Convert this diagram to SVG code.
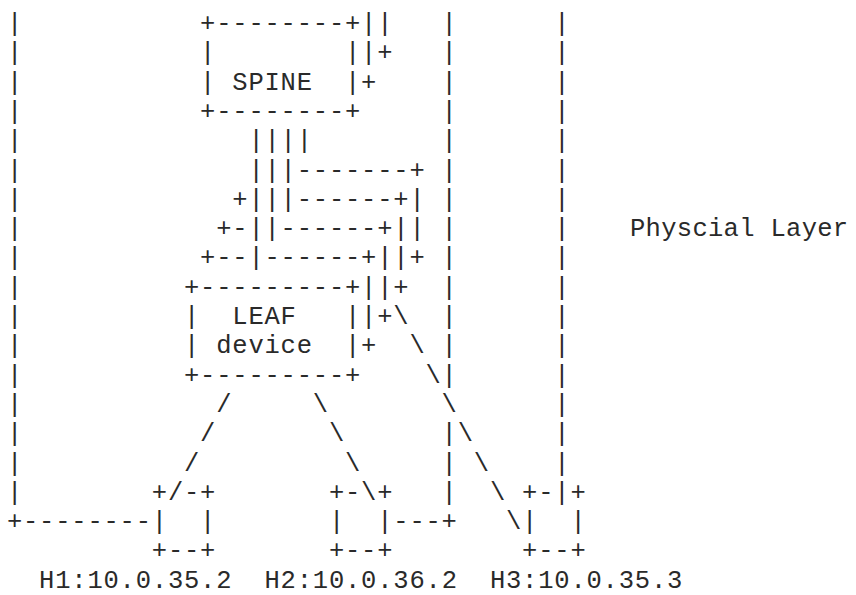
<svg xmlns="http://www.w3.org/2000/svg" width="856" height="595" viewBox="0 0 856 595">
<style>
text{font-family:"Liberation Mono","DejaVu Sans Mono",monospace;font-size:25.5px;letter-spacing:0.8px;fill:#2a2a2a;white-space:pre}
.lbl{letter-spacing:0.3px}
</style>
<rect width="856" height="595" fill="#fff"/>
<g id="connectors">
  <text xml:space="preserve"><tspan x="6.9" y="31">|</tspan><tspan x="6.9" y="60.3">|</tspan><tspan x="6.9" y="89.6">|</tspan><tspan x="6.9" y="118.9">|</tspan><tspan x="6.9" y="148.2">|</tspan><tspan x="6.9" y="177.5">|</tspan><tspan x="6.9" y="206.8">|</tspan><tspan x="6.9" y="236.1">|</tspan><tspan x="6.9" y="265.4">|</tspan><tspan x="6.9" y="294.7">|</tspan><tspan x="6.9" y="324">|</tspan><tspan x="6.9" y="353.3">|</tspan><tspan x="6.9" y="382.6">|</tspan><tspan x="6.9" y="411.9">|</tspan><tspan x="6.9" y="441.2">|</tspan><tspan x="6.9" y="470.5">|</tspan><tspan x="6.9" y="499.8">|</tspan><tspan x="6.9" y="529.1">+--------</tspan></text>
  <text xml:space="preserve"><tspan x="441.6" y="31">|</tspan><tspan x="441.6" y="60.3">|</tspan><tspan x="441.6" y="89.6">|</tspan><tspan x="441.6" y="118.9">|</tspan><tspan x="441.6" y="148.2">|</tspan><tspan x="441.6" y="177.5">|</tspan><tspan x="441.6" y="206.8">|</tspan><tspan x="441.6" y="236.1">|</tspan><tspan x="441.6" y="265.4">|</tspan><tspan x="441.6" y="294.7">|</tspan><tspan x="441.6" y="324">|</tspan><tspan x="441.6" y="353.3">|</tspan><tspan x="441.6" y="382.6">|</tspan><tspan x="441.6" y="411.9">\</tspan><tspan x="441.6" y="441.2">|</tspan><tspan x="441.6" y="470.5">|</tspan><tspan x="441.6" y="499.8">|</tspan><tspan x="393.3" y="529.1">---+</tspan></text>
  <text xml:space="preserve"><tspan x="554.3" y="31">|</tspan><tspan x="554.3" y="60.3">|</tspan><tspan x="554.3" y="89.6">|</tspan><tspan x="554.3" y="118.9">|</tspan><tspan x="554.3" y="148.2">|</tspan><tspan x="554.3" y="177.5">|</tspan><tspan x="554.3" y="206.8">|</tspan><tspan x="554.3" y="236.1">|</tspan><tspan x="554.3" y="265.4">|</tspan><tspan x="554.3" y="294.7">|</tspan><tspan x="554.3" y="324">|</tspan><tspan x="554.3" y="353.3">|</tspan><tspan x="554.3" y="382.6">|</tspan><tspan x="554.3" y="411.9">|</tspan><tspan x="554.3" y="441.2">|</tspan><tspan x="554.3" y="470.5">|</tspan></text>
  <text xml:space="preserve"><tspan x="361.1" y="31">||</tspan><tspan x="361.1" y="60.3">|+</tspan><tspan x="361.1" y="89.6">+</tspan></text>
  <text xml:space="preserve"><tspan x="248.4" y="148.2">||||</tspan><tspan x="248.4" y="177.5">|||-------+</tspan><tspan x="232.3" y="206.8">+|||------+|</tspan><tspan x="216.2" y="236.1">+-||------+||</tspan><tspan x="200.1" y="265.4">+--|------+||+</tspan><tspan x="361.1" y="294.7">||+</tspan><tspan x="361.1" y="324">|+\</tspan><tspan x="361.1" y="353.3">+  \</tspan><tspan x="425.5" y="382.6">\</tspan></text>
  <text xml:space="preserve"><tspan x="216.2" y="411.9">/</tspan><tspan x="200.1" y="441.2">/</tspan><tspan x="184" y="470.5">/</tspan></text>
  <text xml:space="preserve"><tspan x="312.8" y="411.9">\</tspan><tspan x="328.9" y="441.2">\</tspan><tspan x="345" y="470.5">\</tspan></text>
  <text xml:space="preserve"><tspan x="457.7" y="441.2">\</tspan><tspan x="473.8" y="470.5">\</tspan><tspan x="489.9" y="499.8">\</tspan><tspan x="506" y="529.1">\</tspan></text>
</g>
<g id="spine">
  <text xml:space="preserve"><tspan x="200.1" y="31">+--------+</tspan><tspan x="200.1" y="60.3">|        |</tspan><tspan x="200.1" y="89.6">| SPINE  |</tspan><tspan x="200.1" y="118.9">+--------+</tspan></text>
</g>
<g id="leaf">
  <text xml:space="preserve"><tspan x="184" y="294.7">+---------+</tspan><tspan x="184" y="324">|  LEAF   |</tspan><tspan x="184" y="353.3">| device  |</tspan><tspan x="184" y="382.6">+---------+</tspan></text>
</g>
<g id="h1">
  <text xml:space="preserve"><tspan x="151.8" y="499.8">+/-+</tspan><tspan x="151.8" y="529.1">|  |</tspan><tspan x="151.8" y="558.4">+--+</tspan><tspan x="39.1" y="587.7">H1:10.0.35.2</tspan></text>
</g>
<g id="h2">
  <text xml:space="preserve"><tspan x="328.9" y="499.8">+-\+</tspan><tspan x="328.9" y="529.1">|  |</tspan><tspan x="328.9" y="558.4">+--+</tspan><tspan x="264.5" y="587.7">H2:10.0.36.2</tspan></text>
</g>
<g id="h3">
  <text xml:space="preserve"><tspan x="522.1" y="499.8">+-|+</tspan><tspan x="522.1" y="529.1">|  |</tspan><tspan x="522.1" y="558.4">+--+</tspan><tspan x="489.9" y="587.7">H3:10.0.35.3</tspan></text>
</g>
<g id="physical-layer">
  <text class="lbl" x="630" y="236.1">Physcial Layer</text>
</g>
</svg>
